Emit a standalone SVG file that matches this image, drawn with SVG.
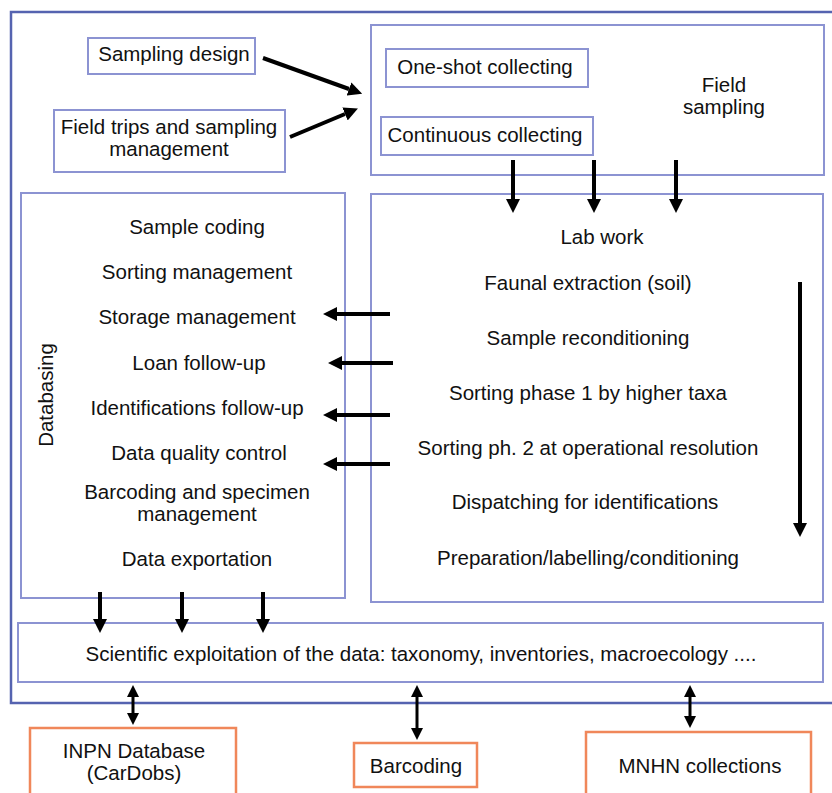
<svg xmlns="http://www.w3.org/2000/svg" width="832" height="793" viewBox="0 0 832 793">
<style>
text{font-family:"Liberation Sans",Arial,sans-serif;font-size:20.5px;fill:#111;text-anchor:middle}
.box{fill:#fff;stroke:#8c93d2;stroke-width:2}
.outer{fill:#fff;stroke:#5563b0;stroke-width:2.5}
.ext{fill:#fff;stroke:#f0875a;stroke-width:2.5}
.arr{stroke:#000;stroke-width:4;fill:none;marker-end:url(#ah)}
.dbl{stroke:#000;stroke-width:3;fill:none;marker-end:url(#ah2);marker-start:url(#ah2)}
</style>
<defs>
<marker id="ah" markerUnits="userSpaceOnUse" viewBox="0 0 14 14" markerWidth="14" markerHeight="14" refX="0" refY="7" orient="auto"><path d="M0,0 L14,7 L0,14 z" fill="#000"/></marker>
<marker id="ah2" markerUnits="userSpaceOnUse" viewBox="0 0 12 12" markerWidth="12" markerHeight="12" refX="0" refY="6" orient="auto-start-reverse"><path d="M0,0 L12,6 L0,12 z" fill="#000"/></marker>
</defs>
<rect class="outer" x="11" y="12" width="835" height="691"/>
<g id="sampling-design"><rect class="box" x="88" y="38" width="167" height="36"/><text x="174" y="61">Sampling design</text></g>
<g id="field-trips"><rect class="box" x="54" y="110" width="231" height="62"/><text x="169" y="134">Field trips and sampling</text><text x="169" y="156">management</text></g>
<g id="field-sampling"><rect class="box" x="371" y="25" width="453" height="150"/><text x="724" y="92">Field</text><text x="724" y="114">sampling</text></g>
<g id="one-shot"><rect class="box" x="386" y="49" width="202" height="38"/><text x="485" y="74">One-shot collecting</text></g>
<g id="continuous"><rect class="box" x="381" y="117" width="212" height="38"/><text x="485" y="142">Continuous collecting</text></g>
<g id="databasing"><rect class="box" x="21" y="193" width="324" height="405"/>
<text transform="translate(53,395) rotate(-90)">Databasing</text>
<text x="197" y="234">Sample coding</text>
<text x="197" y="279">Sorting management</text>
<text x="197" y="324">Storage management</text>
<text x="199" y="370">Loan follow-up</text>
<text x="197" y="415">Identifications follow-up</text>
<text x="199" y="460">Data quality control</text>
<text x="197" y="499">Barcoding and specimen</text>
<text x="197" y="521">management</text>
<text x="197" y="566">Data exportation</text>
</g>
<g id="lab-work"><rect class="box" x="371" y="194" width="452" height="408"/>
<text x="602" y="244">Lab work</text>
<text x="588" y="290">Faunal extraction (soil)</text>
<text x="588" y="345">Sample reconditioning</text>
<text x="588" y="400">Sorting phase 1 by higher taxa</text>
<text x="588" y="455">Sorting ph. 2 at operational resolution</text>
<text x="585" y="509">Dispatching for identifications</text>
<text x="588" y="565">Preparation/labelling/conditioning</text>
</g>
<g id="exploitation"><rect class="box" x="18" y="623" width="805" height="59"/><text x="421" y="661">Scientific exploitation of the data: taxonomy, inventories, macroecology ....</text></g>
<g id="inpn"><rect class="ext" x="30" y="728" width="206" height="70"/><text x="134" y="758">INPN Database</text><text x="134" y="780">(CarDobs)</text></g>
<g id="barcoding"><rect class="ext" x="354" y="743" width="123" height="44"/><text x="416" y="773">Barcoding</text></g>
<g id="mnhn"><rect class="ext" x="586" y="732" width="225" height="66"/><text x="700" y="773">MNHN collections</text></g>
<g id="connectors">
<path class="arr" d="M263,58 L349,89"/>
<path class="arr" d="M290,137 L345,114"/>
<path class="arr" d="M513,160 V199"/>
<path class="arr" d="M594,160 V199"/>
<path class="arr" d="M676,160 V199"/>
<path class="arr" d="M390,314 H337"/>
<path class="arr" d="M393,363 H342"/>
<path class="arr" d="M390,415 H337"/>
<path class="arr" d="M390,464 H337"/>
<path class="arr" d="M800,282 V523"/>
<path class="arr" d="M100,592 V619"/>
<path class="arr" d="M182,592 V619"/>
<path class="arr" d="M263,592 V619"/>
<path class="dbl" d="M133,697 V713"/>
<path class="dbl" d="M417,697 V728"/>
<path class="dbl" d="M690,697 V716"/>
</g>
</svg>
